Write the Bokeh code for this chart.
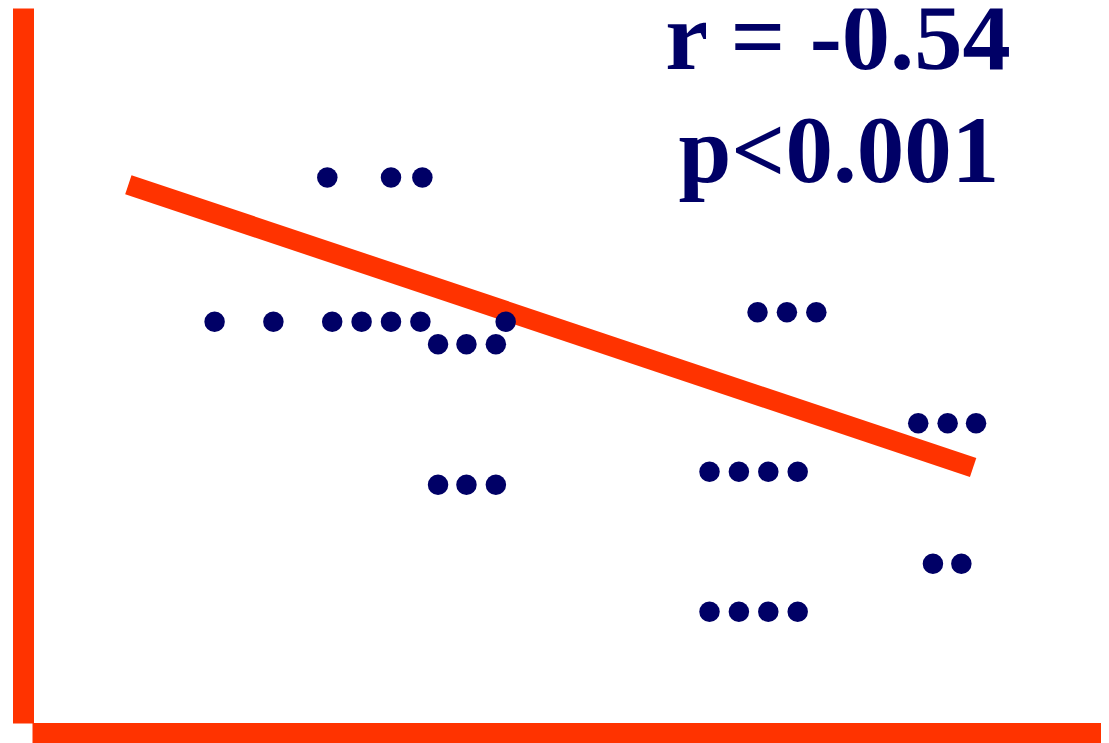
from bokeh.plotting import figure
from bokeh.models import Range1d, FixedTicker, Label, LinearAxis
from bokeh.embed import file_html
from bokeh.resources import INLINE

# ---- data ----
x_vals = [31.0, 37.5, 40.7,
          19.5, 25.5, 31.5, 34.5, 37.5, 40.5, 49.2,
          42.3, 45.2, 48.2,
          42.3, 45.2, 48.2,
          74.9, 77.9, 80.9,
          70.0, 73.0, 76.0, 79.0,
          70.0, 73.0, 76.0, 79.0,
          91.3, 94.3, 97.2,
          92.8, 95.7]
y_vals = [76.7, 76.7, 76.7,
          56.8, 56.8, 56.8, 56.8, 56.8, 56.8, 56.8,
          53.7, 53.7, 53.7,
          34.3, 34.3, 34.3,
          58.1, 58.1, 58.1,
          36.1, 36.1, 36.1, 36.1,
          16.8, 16.8, 16.8, 16.8,
          42.8, 42.8, 42.8,
          23.4, 23.4]
fit_x = [10.7, 96.9]
fit_y = [75.7, 36.7]
stats_lines = ["r = -0.54", "p<0.001"]

RED = "#FF3300"
NAVY = "#000066"

p = figure(width=1101, height=743, output_backend="svg", toolbar_location=None,
           x_range=Range1d(0, 110), y_range=Range1d(0, 100),
           x_axis_location=None, y_axis_location=None,
           min_border_left=23, min_border_right=0, min_border_top=8, min_border_bottom=10)
p.outline_line_color = None
p.grid.visible = False
p.background_fill_color = "white"
p.border_fill_color = "white"

def make_axis(bounds):
    ax = LinearAxis(ticker=FixedTicker(ticks=[]), bounds=bounds,
                    axis_line_color=RED, axis_line_width=21, axis_line_cap="butt",
                    major_tick_line_color=None, minor_tick_line_color=None,
                    major_label_text_font_size="0px", major_tick_out=0, minor_tick_out=0,
                    major_label_standoff=0)
    return ax

p.add_layout(make_axis((1.38, 101.1)), "left")
p.add_layout(make_axis((0.92, 110)), "below")

p.line(fit_x, fit_y, line_color=RED, line_width=20, line_cap="butt")
p.scatter(x_vals, y_vals, size=20.5, fill_color=NAVY, line_color=None)

label_y = [96.2, 80.5]
label_size = ["96.5px", "95px"]
for txt, yy, fs in zip(stats_lines, label_y, label_size):
    p.add_layout(Label(x=83.2, y=yy, text=txt, text_align="center",
                       text_baseline="alphabetic", text_font="Liberation Serif",
                       text_font_style="bold", text_font_size=fs,
                       text_color=NAVY))

open("out.html", "w").write(file_html(p, INLINE))
